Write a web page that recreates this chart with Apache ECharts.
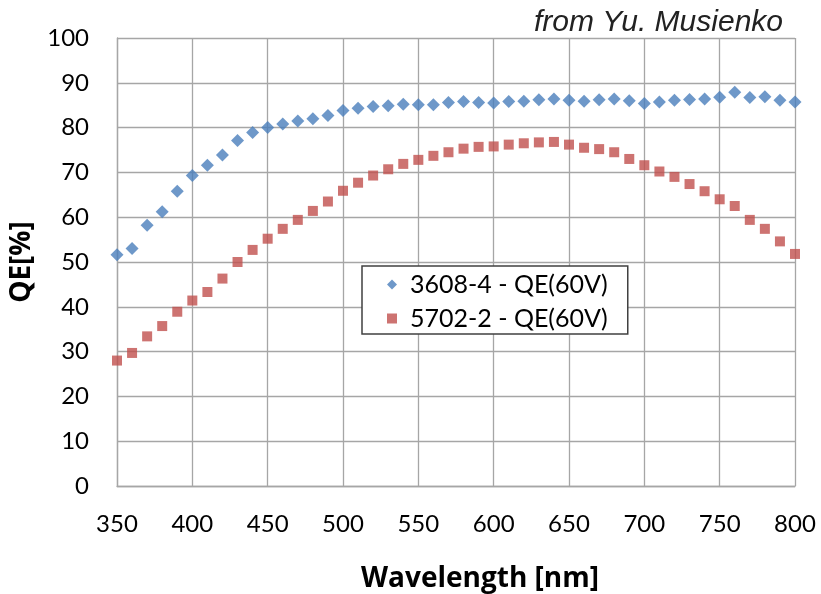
<!DOCTYPE html>
<html>
<head>
<meta charset="utf-8">
<script src="https://cdn.jsdelivr.net/npm/echarts@6/dist/echarts.min.js"></script>
<style>
html,body{margin:0;padding:0;background:#fff;}
#chart{width:821px;height:594px;}
</style>
</head>
<body>
<div id="chart"></div>
<script>
var wavelengths = [350,360,370,380,390,400,410,420,430,440,450,460,470,480,490,500,510,520,530,540,550,560,570,580,590,600,610,620,630,640,650,660,670,680,690,700,710,720,730,740,750,760,770,780,790,800];
var qe3608 = [51.6,53.0,58.2,61.2,65.8,69.3,71.6,73.9,77.1,78.9,80.0,80.8,81.5,82.0,82.7,83.8,84.3,84.7,84.9,85.2,85.1,85.1,85.6,85.8,85.6,85.5,85.8,85.9,86.2,86.4,86.1,85.9,86.2,86.4,86.0,85.4,85.7,86.1,86.3,86.4,86.8,87.9,86.7,86.9,86.1,85.7];
var qe5702 = [28.0,29.7,33.4,35.7,38.9,41.4,43.3,46.3,50.0,52.7,55.2,57.4,59.4,61.4,63.5,65.9,67.7,69.3,70.7,71.9,72.8,73.7,74.5,75.3,75.7,75.8,76.2,76.5,76.7,76.8,76.2,75.5,75.2,74.5,73.0,71.6,70.2,69.0,67.4,65.8,64.0,62.5,59.4,57.4,54.6,51.8];
var seriesNames = ['3608-4 - QE(60V)', '5702-2 - QE(60V)'];
var xTitle = 'Wavelength [nm]';
var yTitle = 'QE[%]';
var credit = 'from Yu. Musienko';

function pairs(xs, ys) { return xs.map(function (x, i) { return [x, ys[i]]; }); }

var chart = echarts.init(document.getElementById('chart'), null, {renderer: 'canvas'});
var gridColor = '#a6a6a6';
var font = 'Lato';
var titleFont = 'Open Sans';
chart.setOption({
  animation: false,
  backgroundColor: '#fff',
  title: {
    text: credit, right: 33, top: 3,
    textStyle: {fontFamily: 'Liberation Sans', fontStyle: 'italic', fontWeight: 'normal', fontSize: 30, color: '#222'}
  },
  grid: {left: 117, right: 26, top: 38, bottom: 108, containLabel: false, outerBoundsMode: 'none'},
  xAxis: {
    type: 'value', min: 350, max: 800, interval: 50,
    name: xTitle, nameLocation: 'middle', nameGap: 79,
    nameTextStyle: {fontFamily: titleFont, fontWeight: 'bold', fontSize: 28, color: '#000', padding: [0, 0, 0, 48]},
    axisLine: {show: true, lineStyle: {color: gridColor, width: 1.3}},
    axisTick: {show: false},
    axisLabel: {fontFamily: font, fontSize: 24, color: '#000', margin: 26},
    splitLine: {show: true, lineStyle: {color: gridColor, width: 1.3}}
  },
  yAxis: {
    type: 'value', min: 0, max: 100, interval: 10,
    name: yTitle, nameLocation: 'middle', nameGap: 74, nameRotate: 90,
    nameTextStyle: {fontFamily: titleFont, fontWeight: 'bold', fontSize: 28, color: '#000'},
    axisLine: {show: true, lineStyle: {color: gridColor, width: 1.3}},
    axisTick: {show: false},
    axisLabel: {fontFamily: font, fontSize: 24, color: '#000', margin: 28},
    splitLine: {show: true, lineStyle: {color: gridColor, width: 1.3}}
  },
  legend: {
    orient: 'vertical', left: 362, top: 266,
    padding: [6, 20, 3, 25], itemGap: 9,
    itemWidth: 10, itemHeight: 10,
    borderColor: '#404040', borderWidth: 1.5, backgroundColor: '#fff',
    textStyle: {fontFamily: font, fontSize: 25, color: '#000', padding: [0, 0, 0, 8]},
    data: [{name: seriesNames[0], icon: 'diamond'}, {name: seriesNames[1], icon: 'rect'}]
  },
  series: [
    {name: seriesNames[0], type: 'scatter', symbol: 'diamond', symbolSize: 13,
     itemStyle: {color: '#4A7EBB'}, data: pairs(wavelengths, qe3608)},
    {name: seriesNames[1], type: 'scatter', symbol: 'rect', symbolSize: 10,
     itemStyle: {color: '#C0504D'}, data: pairs(wavelengths, qe5702)}
  ]
});
</script>
</body>
</html>
